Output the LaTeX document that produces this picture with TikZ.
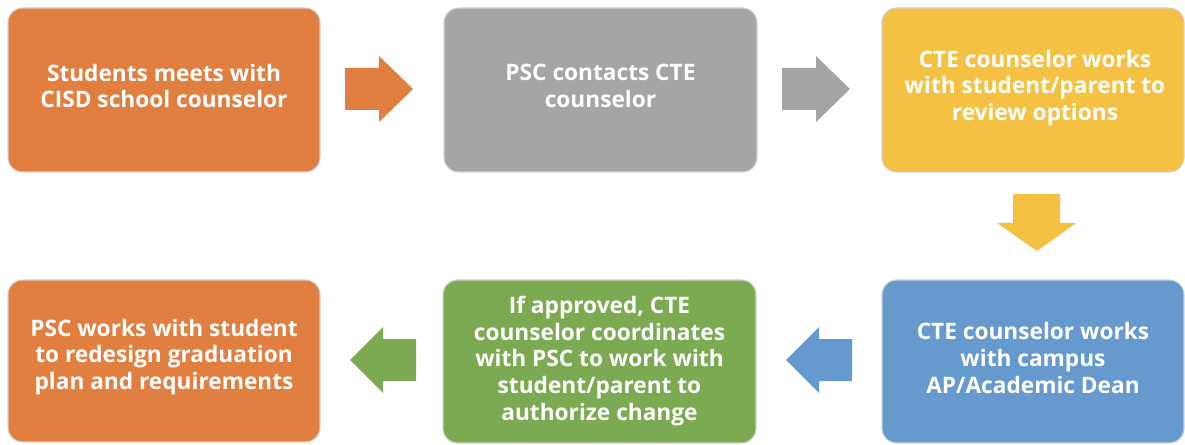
\documentclass[tikz,border=0pt]{standalone}
\usepackage{fontspec}
\setmainfont{Open Sans}
\definecolor{corange}{HTML}{E07F40}
\definecolor{cgray}{HTML}{A5A5A5}
\definecolor{cyellow}{HTML}{F4C142}
\definecolor{cblue}{HTML}{6699CD}
\definecolor{cgreen}{HTML}{7BAA53}
\newcommand{\blockR}[3]{\fill[#3] (#1,#2) ++(0,-21) -- ++(34,0) -- ++(0,-12) -- ++(34,33) -- ++(-34,33) -- ++(0,-12) -- ++(-34,0) -- cycle;}
\newcommand{\blockL}[3]{\fill[#3] (#1,#2) ++(0,-21) -- ++(-33,0) -- ++(0,-12) -- ++(-33,33) -- ++(33,33) -- ++(0,-12) -- ++(33,0) -- cycle;}
\tikzset{
  box/.style={rectangle, rounded corners=11pt, draw=gray!35, line width=0.8pt,
    fill=#1, minimum height=123pt, inner sep=0pt},
  boxtext/.style={text=white, align=center, font=\fontsize{17}{20}\selectfont\bfseries, inner sep=0pt},
}
\begin{document}
\begin{tikzpicture}[x=0.75pt,y=-0.75pt]
\useasboundingbox (0,0) rectangle (1185,445);
\node[box=corange, minimum width=234pt] (b1) at (164,90) {};
\node[boxtext] (t1) at (164,86) {Students meets with\\CISD school counselor};
\node[box=cgray, minimum width=234.75pt] (b2) at (600.5,90) {};
\node[boxtext] (t2) at (600.5,86) {PSC contacts CTE\\counselor};
\node[box=cyellow, minimum width=226.5pt] (b3) at (1033,90) {};
\node[boxtext] (t3) at (1035,88) {CTE counselor works\\with student/parent to\\review options};
\node[box=cblue, minimum width=226.5pt, minimum height=122.25pt] (b4) at (1033,361.5) {};
\node[boxtext] (t4) at (1033,358) {CTE counselor works\\with campus\\AP/Academic Dean};
\node[box=cgreen, minimum width=234.75pt, minimum height=122.25pt] (b5) at (599.5,361.5) {};
\node[boxtext] (t5) at (599.5,361) {If approved, CTE\\counselor coordinates\\with PSC to work with\\student/parent to\\authorize change};
\node[box=corange, minimum width=234pt, minimum height=121.5pt] (b6) at (164,361) {};
\node[boxtext] (t6) at (164,357) {PSC works with student\\to redesign graduation\\plan and requirements};
\blockR{345}{89}{corange}
\blockR{782}{89}{cgray}
\fill[cyellow] (1013,194) -- (1060,194) -- (1060,223) -- (1076,223) -- (1037,251) -- (997,223) -- (1013,223) -- cycle;
\blockL{852}{360}{cblue}
\blockL{416}{360}{cgreen}
\end{tikzpicture}
\end{document}
